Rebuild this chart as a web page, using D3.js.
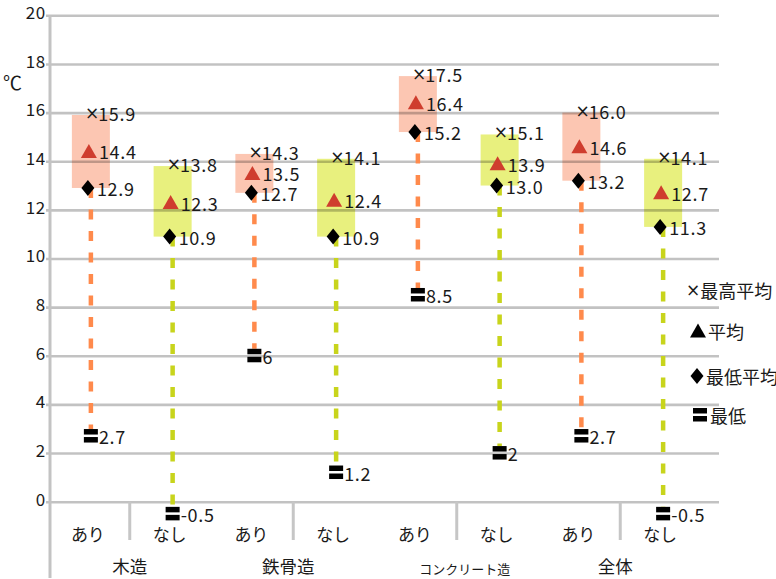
<!DOCTYPE html>
<html>
<head>
<meta charset="utf-8">
<script src="https://cdn.jsdelivr.net/npm/d3@7"></script>
<style>
  html, body { margin: 0; padding: 0; background: #fff; }
  svg { display: block; }
  text { font-family: "Noto Sans CJK JP", "Noto Sans", sans-serif; fill: #1a1a1a; }
</style>
</head>
<body>
<svg id="chart" width="776" height="579"></svg>
<script>
// 断熱リフォームの有無別 室温（℃）
const categories = ["あり", "なし", "あり", "なし", "あり", "なし", "あり", "なし"];
const groups = ["木造", "鉄骨造", "コンクリート造", "全体"];
const maxAvg = [15.9, 13.8, 14.3, 14.1, 17.5, 15.1, 16.0, 14.1];
const avg    = [14.4, 12.3, 13.5, 12.4, 16.4, 13.9, 14.6, 12.7];
const minAvg = [12.9, 10.9, 12.7, 10.9, 15.2, 13.0, 13.2, 11.3];
const minVal = [2.7, -0.5, 6, 1.2, 8.5, 2, 2.7, -0.5];
const yTicks = [0, 2, 4, 6, 8, 10, 12, 14, 16, 18, 20];
const legendLabels = ["最高平均", "平均", "最低平均", "最低"];
const unitLabel = "℃";

const COLOR_ARI = "#ff8a4c", BOX_ARI = "#fcc6b2";
const COLOR_NASHI = "#c8d41c", BOX_NASHI = "#e8f07e";
const RED = "#cf3d2e";
const NUM_FONT = 18;
const NUM_SPACING = 0.7;

const svg = d3.select("#chart");
const y = d3.scaleLinear().domain([0, 20]).range([501.7, 15.3]);
const x = d3.scaleBand().domain(d3.range(categories.length)).range([50, 704]);
const cx = i => x(i) + x.bandwidth() / 2;
const isAri = i => i % 2 === 0;
const fmt1 = v => v.toFixed(1);

// boxes spanning 最低平均 .. 最高平均
svg.append("g").selectAll("rect").data(d3.range(categories.length)).join("rect")
  .attr("x", i => cx(i) - 19)
  .attr("width", 38)
  .attr("y", i => y(maxAvg[i]))
  .attr("height", i => y(minAvg[i]) - y(maxAvg[i]))
  .attr("fill", i => isAri(i) ? BOX_ARI : BOX_NASHI);

// y axis with gridlines
const gy = svg.append("g").attr("transform", "translate(50,0)")
  .call(d3.axisLeft(y).tickValues(yTicks).tickSize(-669).tickSizeOuter(0).tickPadding(4));
gy.select(".domain").remove();
gy.selectAll(".tick line")
  .attr("x1", -4)
  .attr("stroke", "rgba(0,0,0,0.24)")
  .attr("stroke-width", 2.6);
gy.selectAll(".tick text")
  .attr("font-size", 17)
  .attr("font-family", "'Noto Sans CJK JP', sans-serif")
  .attr("letter-spacing", NUM_SPACING)
  .attr("dy", "0.2em")
  .attr("fill", "#1a1a1a");

// vertical axis line
svg.append("line")
  .attr("x1", 50).attr("x2", 50)
  .attr("y1", y(20)).attr("y2", 578)
  .attr("stroke", "#c3c3c3").attr("stroke-width", 3);

// unit
svg.append("text").attr("x", 3).attr("y", 81)
  .attr("dominant-baseline", "central")
  .attr("font-size", 19).text(unitLabel);

// bottom category axis
const gx = svg.append("g").attr("transform", `translate(0,${y(0)})`)
  .call(d3.axisBottom(x).tickFormat(i => categories[i]).tickSize(0));
gx.select(".domain").remove();
gx.selectAll(".tick text")
  .attr("y", 33).attr("dy", "0.35em").attr("dx", -3)
  .attr("font-size", 17).attr("fill", "#1a1a1a");

// separators between あり / なし
svg.append("g").selectAll("line").data(d3.range(1, categories.length, 2)).join("line")
  .attr("x1", i => x(i) - 2).attr("x2", i => x(i) - 2)
  .attr("y1", y(0)).attr("y2", 540)
  .attr("stroke", "#c6c6c6").attr("stroke-width", 3);

// group labels
svg.append("g").selectAll("text").data(groups).join("text")
  .attr("x", (g, k) => x(2 * k + 1) - 2 + (k === 2 ? 8 : 0) - (k === 1 || k === 3 ? 5 : 0))
  .attr("y", (g, k) => k === 2 ? 568 : 565)
  .attr("text-anchor", "middle")
  .attr("dominant-baseline", "central")
  .attr("font-size", (g, k) => k === 2 ? 13 : 17.5)
  .text(g => g);

// dashed range lines 最低平均 -> 最低
svg.append("g").selectAll("line").data(d3.range(categories.length)).join("line")
  .attr("x1", cx).attr("x2", cx)
  .attr("y1", i => y(minAvg[i]))
  .attr("y2", i => y(minVal[i]) - 7)
  .attr("stroke", i => isAri(i) ? COLOR_ARI : COLOR_NASHI)
  .attr("stroke-width", 4.5)
  .attr("stroke-dasharray", "10,11.5");

const marks = svg.append("g");
const numText = (sel) => sel
  .attr("font-size", NUM_FONT)
  .attr("letter-spacing", NUM_SPACING)
  .attr("dominant-baseline", "central");

// 最高平均 labels
const mx = marks.append("g").selectAll("text").data(d3.range(categories.length)).join("text")
  .attr("x", i => cx(i) - 6)
  .attr("y", i => y(maxAvg[i]) - 2)
  .call(numText);
mx.append("tspan").attr("font-family", "'DejaVu Sans', sans-serif").attr("font-size", 17).attr("letter-spacing", 0).text("×");
mx.append("tspan").attr("dx", -1).text(i => fmt1(maxAvg[i]));

// 平均 triangles + labels
const triPath = (px, py) => `M${px - 8},${py + 6.5}L${px + 8},${py + 6.5}L${px},${py - 7.5}Z`;
marks.append("g").selectAll("path").data(d3.range(categories.length)).join("path")
  .attr("d", i => triPath(cx(i) - 2, y(avg[i])))
  .attr("fill", RED);
marks.append("g").selectAll("text").data(d3.range(categories.length)).join("text")
  .attr("x", i => cx(i) + 8)
  .attr("y", i => y(avg[i]))
  .call(numText)
  .attr("fill", RED)
  .text(i => fmt1(avg[i]));

// 最低平均 diamonds + labels
const diaPath = (px, py) => `M${px},${py - 8}L${px + 6.5},${py}L${px},${py + 8}L${px - 6.5},${py}Z`;
marks.append("g").selectAll("path").data(d3.range(categories.length)).join("path")
  .attr("d", i => diaPath(cx(i) - 3, y(minAvg[i])))
  .attr("fill", "#000");
marks.append("g").selectAll("text").data(d3.range(categories.length)).join("text")
  .attr("x", i => cx(i) + 6)
  .attr("y", i => y(minAvg[i]))
  .call(numText)
  .text(i => fmt1(minAvg[i]));

// 最低 markers + labels
const minMark = (sel, px, py) => {
  sel.append("rect").attr("x", px - 7).attr("y", py - 7).attr("width", 14).attr("height", 5.5).attr("fill", "#000");
  sel.append("rect").attr("x", px - 7).attr("y", py + 1).attr("width", 14).attr("height", 5.5).attr("fill", "#000");
};
d3.range(categories.length).forEach(i => {
  const g = marks.append("g");
  minMark(g, cx(i), y(minVal[i]));
  g.append("text")
    .attr("x", cx(i) + 8)
    .attr("y", y(minVal[i]))
    .call(numText)
    .text(String(minVal[i]));
});

// legend
const lg = svg.append("g");
const legendY = [290, 331, 376, 415];
const lx = lg.append("text").attr("x", 686).attr("y", legendY[0]).attr("dominant-baseline", "central").attr("font-size", 18);
lx.append("tspan").attr("font-family", "'DejaVu Sans', sans-serif").attr("font-size", 17).text("×");
lx.append("tspan").text(legendLabels[0]);
lg.append("path").attr("d", triPath(698, legendY[1])).attr("fill", "#000");
lg.append("text").attr("x", 708).attr("y", legendY[1]).attr("dominant-baseline", "central").attr("font-size", 18).text(legendLabels[1]);
lg.append("path").attr("d", diaPath(697, legendY[2])).attr("fill", "#000");
lg.append("text").attr("x", 706).attr("y", legendY[2]).attr("dominant-baseline", "central").attr("font-size", 18).text(legendLabels[2]);
minMark(lg, 700, legendY[3]);
lg.append("text").attr("x", 710).attr("y", legendY[3]).attr("dominant-baseline", "central").attr("font-size", 18).text(legendLabels[3]);
</script>
</body>
</html>
